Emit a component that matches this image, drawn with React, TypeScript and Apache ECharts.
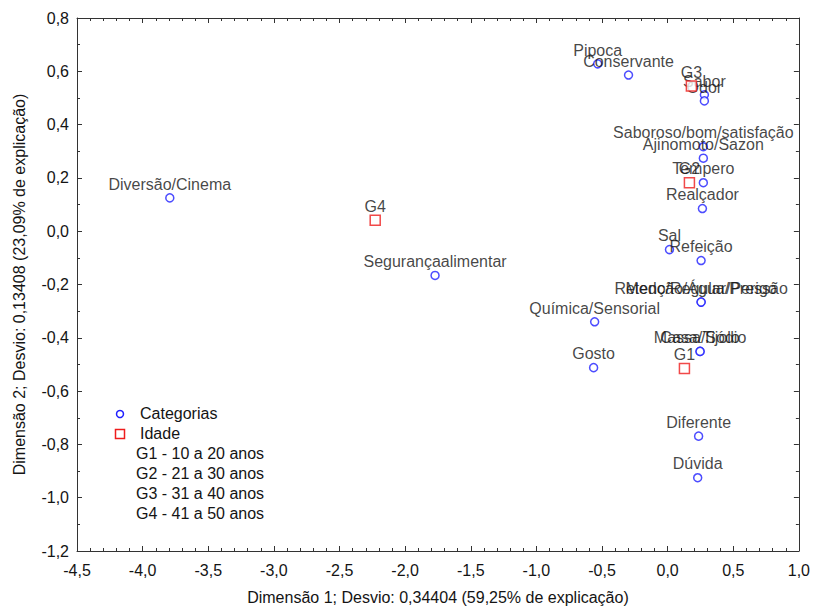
import React, { useEffect, useRef } from "react";
import * as echarts from "echarts";

const categoryNames = [
  "Pipoca", "Conservante", "Sabor", "Odor", "Saboroso/bom/satisfação", "Ajinomoto/Sazon",
  "Tempero", "Realçador", "Sal", "Refeição", "Retenção/Água/Pressão", "Medo/Regular/Perigo",
  "Química/Sensorial", "Massa/Sódio", "Casa/Tijolo", "Gosto", "Diferente", "Dúvida",
  "Diversão/Cinema", "Segurançaalimentar",
];
const categoryX = [
  -0.533, -0.298, 0.28, 0.28, 0.272, 0.272,
  0.272, 0.265, 0.014, 0.255, 0.255, 0.255,
  -0.556, 0.247, 0.247, -0.564, 0.236, 0.229,
  -3.793, -1.772,
];
const categoryY = [
  0.628, 0.586, 0.512, 0.489, 0.317, 0.274,
  0.182, 0.085, -0.069, -0.11, -0.266, -0.266,
  -0.34, -0.451, -0.451, -0.512, -0.769, -0.925,
  0.125, -0.166,
];

const groupNames = ["G1", "G2", "G3", "G4"];
const groupX = [0.128, 0.166, 0.181, -2.228];
const groupY = [-0.515, 0.182, 0.545, 0.041];

const groupLegend = [
  "G1 - 10 a 20 anos",
  "G2 - 21 a 30 anos",
  "G3 - 31 a 40 anos",
  "G4 - 41 a 50 anos",
];

const xTitle = "Dimensão 1; Desvio: 0,34404 (59,25% de explicação)";
const yTitle = "Dimensão 2; Desvio: 0,13408 (23,09% de explicação)";

const FONT = "'Liberation Sans', Arial, sans-serif";
const NARROW = "'Liberation Sans Narrow', 'Liberation Sans', Arial, sans-serif";
const BLUE = "#1f1fff";
const RED = "#ee1c1c";
const TEXT = "#141414";

const fmt = (v: number) => v.toFixed(1).replace(".", ",");

export default function App() {
  const ref = useRef<HTMLDivElement>(null);
  useEffect(() => {
    if (!ref.current) return;
    const chart = echarts.init(ref.current, undefined, { renderer: "svg" });
    const axisBase = {
      type: "value" as const,
      axisLine: { show: true, onZero: false, lineStyle: { color: "#333", width: 1 } },
      axisTick: { show: true, inside: true, length: 5, lineStyle: { color: "#333" } },
      splitLine: { show: false },
    };
    const catData = categoryNames.map((n, i) => ({ name: n, value: [categoryX[i], categoryY[i]] }));
    const grpData = groupNames.map((n, i) => ({ name: n, value: [groupX[i], groupY[i]] }));
    const legendTexts = groupLegend.map((t, i) => ({
      type: "text" as const,
      left: 136,
      top: 445 + i * 20,
      style: { text: t, font: `16px ${FONT}`, fill: TEXT },
    }));
    chart.setOption({
      animation: false,
      backgroundColor: "#ffffff",
      grid: { left: 77, right: 12, top: 18, bottom: 58, containLabel: false },
      xAxis: [
        {
          ...axisBase,
          position: "bottom",
          min: -4.5,
          max: 1.0,
          interval: 0.5,
          minorTick: { show: true, splitNumber: 5, length: 3, lineStyle: { color: "#333" } },
          axisLabel: {
            formatter: fmt,
            margin: 11,
            color: TEXT,
            fontSize: 16,
            fontFamily: NARROW,
          },
          name: xTitle,
          nameLocation: "middle",
          nameGap: 38,
          nameTextStyle: { color: TEXT, fontSize: 16, fontFamily: NARROW },
        },
        {
          ...axisBase,
          position: "top",
          min: -4.5,
          max: 1.0,
          interval: 0.5,
          minorTick: { show: true, splitNumber: 5, length: 3, lineStyle: { color: "#333" } },
          axisLabel: { show: false },
        },
      ],
      yAxis: [
        {
          ...axisBase,
          position: "left",
          min: -1.2,
          max: 0.8,
          interval: 0.2,
          minorTick: { show: true, splitNumber: 2, length: 3, lineStyle: { color: "#333" } },
          axisLabel: {
            formatter: fmt,
            margin: 8,
            color: TEXT,
            fontSize: 16,
            fontFamily: NARROW,
          },
          name: yTitle,
          nameLocation: "middle",
          nameGap: 50,
          nameTextStyle: { color: TEXT, fontSize: 16, fontFamily: NARROW },
        },
        {
          ...axisBase,
          position: "right",
          min: -1.2,
          max: 0.8,
          interval: 0.2,
          minorTick: { show: true, splitNumber: 2, length: 3, lineStyle: { color: "#333" } },
          axisLabel: { show: false },
        },
      ],
      series: [
        {
          name: "Categorias",
          type: "scatter",
          xAxisIndex: 0,
          yAxisIndex: 0,
          symbol: "circle",
          symbolSize: 8,
          itemStyle: { color: "#ffffff", borderColor: BLUE, borderWidth: 1.5 },
          label: {
            show: true,
            position: "top",
            distance: 1,
            formatter: "{b}",
            color: TEXT,
            fontSize: 16,
            fontFamily: FONT,
          },
          data: catData,
          z: 3,
        },
        {
          name: "Idade",
          type: "scatter",
          xAxisIndex: 0,
          yAxisIndex: 0,
          symbol: "rect",
          symbolSize: 10,
          itemStyle: { color: "#ffffff", borderColor: RED, borderWidth: 1.5 },
          label: {
            show: true,
            position: "top",
            distance: 0,
            formatter: "{b}",
            color: TEXT,
            fontSize: 16,
            fontFamily: FONT,
          },
          data: grpData,
          z: 4,
        },
      ],
      graphic: [
        {
          type: "circle",
          shape: { cx: 120, cy: 414, r: 3.5 },
          style: { fill: "#fff", stroke: BLUE, lineWidth: 1.5 },
        },
        {
          type: "text",
          left: 140,
          top: 405,
          style: { text: "Categorias", font: `16px ${FONT}`, fill: TEXT },
        },
        {
          type: "rect",
          shape: { x: 115.5, y: 429.5, width: 9, height: 9 },
          style: { fill: "#fff", stroke: RED, lineWidth: 1.5 },
        },
        {
          type: "text",
          left: 140,
          top: 425,
          style: { text: "Idade", font: `16px ${FONT}`, fill: TEXT },
        },
        ...legendTexts,
      ],
    });
    return () => chart.dispose();
  }, []);
  return <div ref={ref} style={{ width: 813, height: 610, position: "absolute", left: 0, top: 0 }} />;
}
